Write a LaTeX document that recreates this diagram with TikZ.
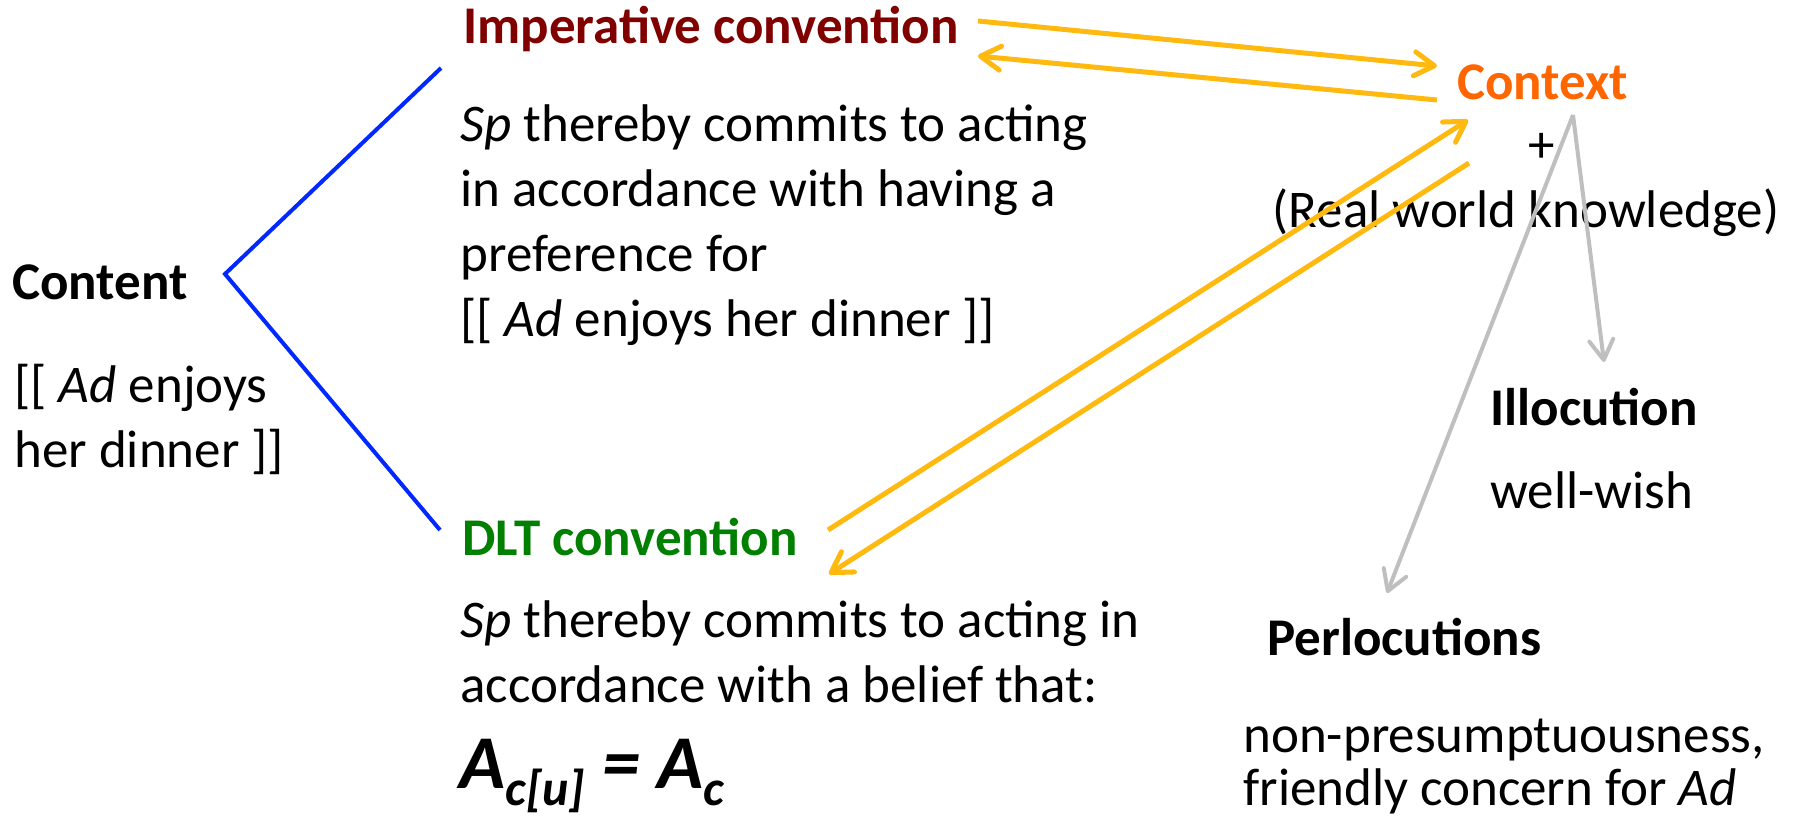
\documentclass[tikz,border=0pt]{standalone}
\usepackage{fontspec}
\setmainfont{Carlito}
\usetikzlibrary{arrows.meta,positioning}
\definecolor{impred}   {RGB}{128,  0,  0}
\definecolor{dltgreen} {RGB}{  0,128,  0}
\definecolor{ctxorange}{RGB}{255,102,  0}
\definecolor{arrgold}  {RGB}{255,185, 15}
\definecolor{lineblue} {RGB}{  0, 40,255}
\definecolor{ctxgray}  {RGB}{191,191,191}
\tikzset{
  txt/.style={inner sep=0pt,anchor=base west,align=left,
              font=\fontsize{26.5}{32.5}\selectfont},
  head/.style={txt,font=\fontsize{26.5}{32.5}\selectfont\bfseries},
  headred/.style={head,text=impred},
  headgreen/.style={head,text=dltgreen},
  headorange/.style={head,text=ctxorange},
  link/.style={line width=2pt,color=lineblue},
  arr/.style={-{Straight Barb[length=10pt,width=12pt,round]},line width=2.5pt,color=arrgold},
  arrgray/.style={arr,line width=2pt,color=ctxgray},
}
\begin{document}
\begin{tikzpicture}[x=0.5pt,y=-0.5pt]
  \useasboundingbox (0,0) rectangle (1815,831);
  \node[headred](imp) at (463,43) {Imperative convention};
  \node[txt](impbody) at (460,336) {\textit{Sp} thereby commits to acting\\in accordance with having a\\preference for\\{[[} \textit{Ad} enjoys her dinner ]]};
  \node[head](content) at (12,299) {Content};
  \node[txt](contentbody) at (14,467) {{[[} \textit{Ad} enjoys\\her dinner ]]};
  \node[headgreen](dlt) at (462,555) {DLT convention};
  \node[txt](dltbody) at (460,702) {\textit{Sp} thereby commits to acting in\\accordance with a belief that:};
  \node[txt,font=\fontsize{38}{40}\selectfont\bfseries\itshape](formula) at (459,788)
    {A\raisebox{-8.5pt}{\fontsize{25}{25}\selectfont c[u]} = A\raisebox{-8.5pt}{\fontsize{25}{25}\selectfont c}};
  \node[headorange](ctx) at (1457,99) {Context};
  \node[txt,anchor=center](plus) at (1542,148) {+};
  \node[txt,anchor=base](rwk) at (1526,227) {(Real world knowledge)};
  \node[head](illoc) at (1490,425) {Illocution};
  \node[txt](wish) at (1490,508) {well-wish};
  \node[head](perloc) at (1267,655) {Perlocutions};
  \node[txt,font=\fontsize{26.5}{26.5}\selectfont](perlocbody) at (1243,805) {non-presumptuousness,\\friendly concern for \textit{Ad}};

  \coordinate (fork) at (225,274);
  \coordinate (impL) at (441,68);
  \coordinate (dltL) at (440,530);
  \coordinate (impA) at (978,21);
  \coordinate (impB) at (978,56);
  \coordinate (ctxA) at (1437,66);
  \coordinate (ctxB) at (1437,100);
  \coordinate (ctxC) at (1468,120);
  \coordinate (ctxD) at (1469,163);
  \coordinate (ctxE) at (1573,115);
  \coordinate (dltA) at (828,530);
  \coordinate (dltB) at (829,574);
  \coordinate (illocA) at (1604,362);
  \coordinate (perlocA) at (1387,593);

  \draw[link](impL) -- (fork) -- (dltL);
  \draw[arr](impA) -- (ctxA);
  \draw[arr](ctxB) -- (impB);
  \draw[arr](dltA) -- (ctxC);
  \draw[arr](ctxD) -- (dltB);
  \draw[arrgray](ctxE) -- (illocA);
  \draw[arrgray](ctxE) -- (perlocA);
\end{tikzpicture}
\end{document}
